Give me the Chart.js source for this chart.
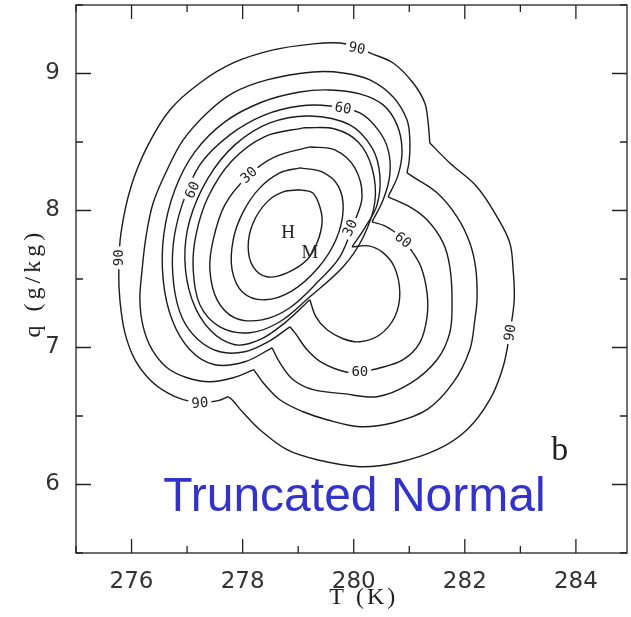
<!DOCTYPE html>
<html>
<head>
<meta charset="utf-8">
<script src="https://cdn.jsdelivr.net/npm/chart.js@4.4.1/dist/chart.umd.min.js"></script>
<style>
  body { margin: 0; background: #fff; }
  canvas { display: block; }
</style>
</head>
<body>
<canvas id="contourChart" width="631" height="617"></canvas>
<script>
// AXIS TICKS
const xTickLabels = [276, 278, 280, 282, 284];
const yTickLabels = [6, 7, 8, 9];

// CONTOURS (T in K, q in g/kg)
// inner levels only go round the H mode
const c10 = [[279.03,8.151],[279.26,8.129],[279.39,8.027],[279.43,7.910],[279.34,7.764],[279.16,7.640],[278.80,7.545],[278.44,7.516],[278.19,7.589],[278.10,7.735],[278.19,7.910],[278.44,8.063],[278.73,8.136]];
const c20 = [[279.03,8.311],[279.43,8.282],[279.72,8.180],[279.81,8.005],[279.68,7.786],[279.36,7.582],[278.89,7.414],[278.40,7.348],[278.01,7.399],[277.81,7.567],[277.83,7.786],[278.01,7.990],[278.31,8.165],[278.67,8.275]];
const c30 = [[279.21,8.464],[279.66,8.442],[280.02,8.311],[280.15,8.100],[279.99,7.895],[279.75,7.662],[279.39,7.494],[278.85,7.290],[278.35,7.202],[277.86,7.217],[277.54,7.348],[277.41,7.567],[277.47,7.786],[277.68,8.041],[278.10,8.253],[278.58,8.391]];
const c40 = [[279.12,8.605],[279.66,8.595],[280.08,8.500],[280.33,8.310],[280.38,8.060],[280.17,7.805],[279.81,7.589],[279.21,7.370],[278.67,7.188],[278.13,7.108],[277.59,7.151],[277.23,7.312],[277.11,7.567],[277.16,7.822],[277.38,8.100],[277.80,8.360],[278.40,8.540]];

// outer levels: left arc (round H) + right arc (round the warm mode), meeting at two cusps
const c50Left = [[279.97,7.735],[280.20,7.873],[280.42,8.041],[280.47,8.260],[280.33,8.457],[279.93,8.625],[279.21,8.690],[278.49,8.639],[277.86,8.479],[277.38,8.238],[277.05,7.932],[276.96,7.640],[277.09,7.348],[277.41,7.129],[277.86,7.020],[278.31,7.057],[278.76,7.180],[279.21,7.348]];
const c50Right = [[279.21,7.348],[279.32,7.224],[279.52,7.129],[279.81,7.064],[280.11,7.042],[280.47,7.093],[280.74,7.224],[280.83,7.399],[280.73,7.589],[280.51,7.698],[280.26,7.742],[279.97,7.735]];
const c60Left = [[280.33,7.917],[280.53,8.078],[280.65,8.260],[280.62,8.442],[280.44,8.588],[280.11,8.712],[279.57,8.763],[279.03,8.763],[278.40,8.698],[277.77,8.552],[277.23,8.333],[276.91,8.041],[276.75,7.749],[276.76,7.458],[276.91,7.217],[277.20,7.057],[277.59,6.969],[278.04,6.969],[278.46,7.042],[278.85,7.151]];
const c60Right = [[278.85,7.151],[278.94,7.108],[279.16,6.984],[279.43,6.889],[279.84,6.823],[280.11,6.823],[280.42,6.845],[280.89,6.911],[281.19,7.035],[281.32,7.224],[281.32,7.399],[281.21,7.589],[281.03,7.713],[280.80,7.822],[280.56,7.888],[280.33,7.917]];
const c70Left = [[280.62,8.100],[280.80,8.260],[280.87,8.442],[280.78,8.625],[280.53,8.771],[280.11,8.851],[279.57,8.880],[279.03,8.865],[278.35,8.792],[277.68,8.647],[277.14,8.428],[276.78,8.151],[276.58,7.822],[276.57,7.494],[276.73,7.202],[277.05,6.984],[277.50,6.874],[278.04,6.896],[278.53,6.998]];
const c70Right = [[278.53,6.998],[278.67,6.889],[278.91,6.765],[279.27,6.692],[279.81,6.663],[280.42,6.641],[281.01,6.736],[281.50,6.911],[281.73,7.108],[281.77,7.348],[281.73,7.589],[281.61,7.764],[281.32,7.932],[281.01,8.027],[280.62,8.100]];
const c80Left = [[278.20,6.838],[277.83,6.779],[277.41,6.750],[277.00,6.779],[276.64,6.852],[276.37,6.984],[276.21,7.151],[276.15,7.348],[276.19,7.567],[276.26,7.808],[276.39,8.056],[276.64,8.296],[276.93,8.515],[277.36,8.712],[277.83,8.858],[278.44,8.953],[279.27,9.011],[279.81,9.004],[280.29,8.953],[280.71,8.829],[280.96,8.661],[281.01,8.515],[281.00,8.369],[280.96,8.275]];
const c80Right = [[280.96,8.275],[281.07,8.245],[281.50,8.129],[281.86,7.954],[282.09,7.764],[282.20,7.567],[282.22,7.348],[282.18,7.202],[282.09,6.984],[281.79,6.743],[281.32,6.546],[280.71,6.451],[280.11,6.422],[279.52,6.473],[279.09,6.531],[278.67,6.619],[278.37,6.743],[278.20,6.838]];
const c90Left = [[277.74,6.641],[277.56,6.612],[277.23,6.597],[276.93,6.619],[276.64,6.670],[276.33,6.765],[276.06,6.911],[275.88,7.108],[275.79,7.348],[275.77,7.567],[275.81,7.837],[275.99,8.173],[276.28,8.464],[276.69,8.734],[277.23,8.931],[277.83,9.077],[278.55,9.172],[279.27,9.216],[279.75,9.223],[280.06,9.194],[280.29,9.150],[280.71,9.077],[281.07,8.931],[281.28,8.785],[281.34,8.639],[281.37,8.493]];
const c90Right = [[281.37,8.493],[281.73,8.347],[282.22,8.172],[282.58,7.954],[282.81,7.764],[282.87,7.567],[282.89,7.348],[282.81,7.108],[282.69,6.860],[282.45,6.619],[282.04,6.400],[281.50,6.254],[280.78,6.159],[280.11,6.130],[279.34,6.181],[278.80,6.254],[278.31,6.400],[278.01,6.524],[277.81,6.619],[277.74,6.641]];

// contour labels: text, T, q, angle (deg)
const contourLabels = [
  ["90", 280.06, 9.186, 12],
  ["90", 275.76, 7.655, -90],
  ["90", 277.23, 6.597, -4],
  ["90", 282.81, 7.108, -80],
  ["60", 279.81, 8.749, 10],
  ["60", 277.09, 8.151, -65],
  ["60", 280.89, 7.786, 40],
  ["60", 280.11, 6.823, 0],
  ["30", 278.11, 8.260, -42],
  ["30", 279.93, 7.873, -65],
];

const lineColor = "#1c1c1c";

function contour(points, closed) {
  const data = points.map((p) => ({ x: p[0], y: p[1] }));
  if (closed) data.push({ x: points[0][0], y: points[0][1] });
  return {
    data: data,
    showLine: true,
    pointRadius: 0,
    borderColor: lineColor,
    borderWidth: 1.4,
    tension: 0.35,
    fill: false,
  };
}

const datasets = [
  contour(c10, true),
  contour(c20, true),
  contour(c30, true),
  contour(c40, true),
  contour(c50Left), contour(c50Right),
  contour(c60Left), contour(c60Right),
  contour(c70Left), contour(c70Right),
  contour(c80Left), contour(c80Right),
  contour(c90Left), contour(c90Right),
];

// frame with inward ticks, contour labels and the texts on the plot
const framePlugin = {
  id: "frame",
  afterDatasetsDraw(chart) {
    const { ctx, chartArea: a, scales: { x, y } } = chart;
    ctx.save();

    // labels sit on a white patch so the line breaks round them
    ctx.font = "14px 'DejaVu Sans Mono'";
    ctx.textAlign = "center";
    ctx.textBaseline = "middle";
    contourLabels.forEach(([txt, t, q, ang]) => {
      const w = ctx.measureText(txt).width;
      ctx.save();
      ctx.translate(x.getPixelForValue(t), y.getPixelForValue(q));
      ctx.rotate((ang * Math.PI) / 180);
      ctx.fillStyle = "#fff";
      ctx.fillRect(-w / 2 - 3, -6, w + 6, 12);
      ctx.fillStyle = "#222";
      ctx.fillText(txt, 0, 1);
      ctx.restore();
    });

    ctx.strokeStyle = "#222";
    ctx.lineWidth = 1.3;
    ctx.strokeRect(a.left, a.top, a.right - a.left, a.bottom - a.top);

    for (let t = 275; t <= x.max; t++) {
      const px = x.getPixelForValue(t);
      const len = t % 2 === 0 ? 14 : 7;
      ctx.beginPath();
      ctx.moveTo(px, a.bottom);
      ctx.lineTo(px, a.bottom - len);
      ctx.moveTo(px, a.top);
      ctx.lineTo(px, a.top + len);
      ctx.stroke();
    }
    for (let q = 5.5; q <= 9.5; q += 0.5) {
      const py = y.getPixelForValue(q);
      const len = Number.isInteger(q) ? 15 : 7;
      ctx.beginPath();
      ctx.moveTo(a.left, py);
      ctx.lineTo(a.left + len, py);
      ctx.moveTo(a.right, py);
      ctx.lineTo(a.right - len, py);
      ctx.stroke();
    }

    // axis titles
    ctx.fillStyle = "#222";
    ctx.font = "24px 'Liberation Serif'";
    ctx.textAlign = "center";
    ctx.textBaseline = "middle";
    ctx.letterSpacing = "3px";
    ctx.fillText("T (K)", x.getPixelForValue(280.18), a.bottom + 45);
    ctx.save();
    ctx.letterSpacing = "4px";
    ctx.translate(34, y.getPixelForValue(7.47));
    ctx.rotate(-Math.PI / 2);
    ctx.fillText("q (g/kg)", 0, 0);
    ctx.restore();
    ctx.letterSpacing = "0px";

    // mode markers and panel letter
    ctx.font = "19px 'Liberation Serif'";
    ctx.fillText("H", x.getPixelForValue(278.82), y.getPixelForValue(7.835));
    ctx.fillText("M", x.getPixelForValue(279.21), y.getPixelForValue(7.689));
    ctx.font = "34px 'Liberation Serif'";
    ctx.textBaseline = "alphabetic";
    ctx.fillText("b", x.getPixelForValue(283.71), y.getPixelForValue(6.18));

    ctx.font = "48px 'Liberation Sans'";
    ctx.fillStyle = "#3333cc";
    ctx.textAlign = "left";
    ctx.fillText("Truncated Normal", x.getPixelForValue(276.57), y.getPixelForValue(5.81));
    ctx.restore();
  },
};

const tickFont = { family: "'DejaVu Sans'", size: 23 };

new Chart(document.getElementById("contourChart"), {
  type: "scatter",
  data: { datasets: datasets },
  options: {
    responsive: false,
    devicePixelRatio: 1,
    animation: false,
    events: [],
    layout: { padding: { top: 5, right: 4, left: 0, bottom: 0 } },
    scales: {
      x: {
        type: "linear",
        min: 275,
        max: 284.92,
        afterBuildTicks: (s) => { s.ticks = xTickLabels.map((v) => ({ value: v })); },
        afterFit: (s) => { s.height = 64; s.paddingLeft = 0; s.paddingRight = 0; },
        grid: { display: false },
        border: { display: false },
        ticks: { font: tickFont, color: "#333", padding: 7, maxRotation: 0, autoSkip: false },
      },
      y: {
        type: "linear",
        min: 5.5,
        max: 9.5,
        afterBuildTicks: (s) => { s.ticks = yTickLabels.map((v) => ({ value: v })); },
        afterFit: (s) => { s.width = 76; s.paddingTop = 0; s.paddingBottom = 0; },
        grid: { display: false },
        border: { display: false },
        ticks: { font: tickFont, color: "#333", padding: 8, autoSkip: false },
      },
    },
    plugins: {
      legend: { display: false },
      tooltip: { enabled: false },
    },
  },
  plugins: [framePlugin],
});
</script>
</body>
</html>
